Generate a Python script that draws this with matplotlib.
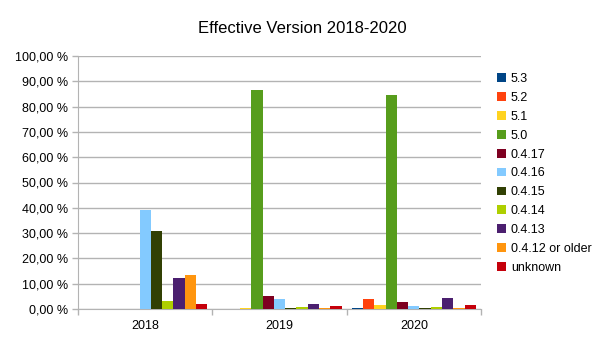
import numpy as np
import matplotlib
matplotlib.use("Agg")
import matplotlib.pyplot as plt
from matplotlib.ticker import FuncFormatter, FixedLocator

# data (percent)
years = ["2018", "2019", "2020"]
versions = ["5.3", "5.2", "5.1", "5.0", "0.4.17", "0.4.16", "0.4.15",
            "0.4.14", "0.4.13", "0.4.12 or older", "unknown"]
v53 = [0.0, 0.0, 0.3]
v52 = [0.0, 0.0, 3.8]
v51 = [0.0, 0.4, 1.4]
v50 = [0.0, 86.6, 84.7]
v0417 = [0.0, 5.1, 2.7]
v0416 = [39.3, 4.1, 1.1]
v0415 = [31.0, 0.3, 0.2]
v0414 = [3.2, 0.7, 0.9]
v0413 = [12.3, 1.8, 4.3]
v0412 = [13.4, 0.4, 0.2]
unknown = [2.0, 1.2, 1.4]
colors = ["#004586", "#ff420e", "#ffd320", "#579d1c", "#7e0021", "#83caff",
          "#314004", "#aecf00", "#4b1f6f", "#ff950e", "#c5000b"]

series = [v53, v52, v51, v50, v0417, v0416, v0415, v0414, v0413, v0412, unknown]

plt.rcParams["font.family"] = ["Liberation Sans", "DejaVu Sans"]

fig = plt.figure(figsize=(6.05, 3.4), dpi=100)
ax = fig.add_axes([78 / 605, 31 / 340, 403 / 605, 253 / 340])

x = np.arange(len(years))
w = 0.084
n = len(series)
for i, vals in enumerate(series):
    pos = x - (n * w) / 2 + w * (i + 0.5)
    ax.bar(pos, np.array(vals) / 100, width=w, color=colors[i],
           label=versions[i], zorder=3)

ax.set_xlim(-0.5, 2.5)
ax.set_ylim(0, 1.0)
ax.set_yticks(np.arange(0, 1.01, 0.1))
ax.yaxis.set_major_formatter(FuncFormatter(
    lambda v, p: ("%.2f %%" % (v * 100)).replace(".", ",")))
ax.yaxis.grid(True, color="#b3b3b3", linewidth=1, zorder=0)

ax.set_xticks(x)
ax.set_xticklabels(years)
ax.xaxis.set_minor_locator(FixedLocator([-0.5, 0.5, 1.5, 2.5]))
ax.tick_params(axis="x", which="major", length=0, pad=8, labelsize=9)
ax.tick_params(axis="x", which="minor", length=4, color="#b3b3b3", width=1)
ax.tick_params(axis="y", length=4, color="#b3b3b3", width=1, labelsize=9, pad=3)

for s in ax.spines.values():
    s.set_color("#b3b3b3")
ax.spines["top"].set_visible(False)
ax.spines["right"].set_visible(False)

fig.text(0.5, 1 - 33 / 340, "Effective Version 2018-2020", ha="center",
         va="baseline", fontsize=12)

fig.legend(loc="upper left", bbox_to_anchor=(492 / 605, 1 - 68 / 340),
           frameon=False, fontsize=9, handlelength=0.7, handleheight=0.7,
           handletextpad=0.4, labelspacing=0.55, borderaxespad=0)

fig.savefig("out.png", dpi=100)
